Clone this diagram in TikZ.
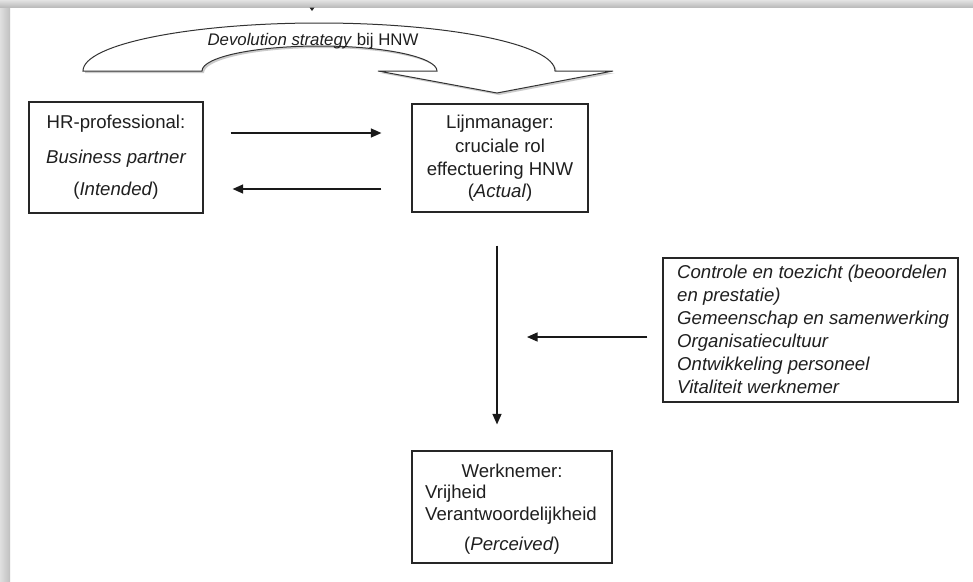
\documentclass[tikz,border=0pt]{standalone}
\usepackage{fontspec}
\setmainfont{Liberation Sans}
\usetikzlibrary{arrows.meta,shadows}
\begin{document}
\begin{tikzpicture}[x=1pt,y=-1pt,
  box/.style={draw=black!85,line width=1.2pt,inner sep=0pt,fill=white},
  txt/.style={inner sep=0pt,anchor=base,font=\fontsize{18.6}{22}\selectfont,text=black!88},
  txtl/.style={txt,anchor=base west},
  arr/.style={line width=1.3pt,draw=black!90,-{Triangle[length=10.5pt,width=9pt]}},
  curvarrow/.style={line width=1pt,draw=black!80,fill=white,
    drop shadow={shadow xshift=2pt,shadow yshift=-2pt,fill=black!45,opacity=0.45}}
]
\useasboundingbox (0,0) rectangle (973,581);
\fill[white] (0,0) rectangle (973,581);
% page shadow bands
\shade[left color=gray!25,right color=gray!50] (0,0) rectangle (10,581);
\shade[top color=gray!22,bottom color=gray!55] (0,0) rectangle (973,7.5);
% small tick at top
\fill[black!85] (309.5,7.5) -- (314.5,7.5) -- (312,11) -- cycle;

% curved block arrow
\draw[curvarrow] (83,71)
  .. controls (83,44.5) and (188.7,23) .. (319,23)
  .. controls (449.3,23) and (555,44.5) .. (555,71)
  -- (613,71) -- (497,93) -- (378,71) -- (437,71)
  .. controls (437,57.2) and (384.4,46) .. (319.5,46)
  .. controls (254.6,46) and (202,57.2) .. (202,71)
  -- cycle;
\node[inner sep=0pt,anchor=base,font=\fontsize{16.8}{20}\selectfont,text=black!88] (dev) at (313,45) {\textit{Devolution strategy} bij HNW};

% HR box
\node[box,minimum width=174pt,minimum height=111pt] (hr) at (116,157.5) {};
\node[txt] (hr1) at (116,128) {HR-professional:};
\node[txt] (hr2) at (116,163) {\itshape Business partner};
\node[txt] (hr3) at (116,195) {(\textit{Intended})};

% Lijnmanager box
\node[box,minimum width=176pt,minimum height=108pt] (lm) at (500,158) {};
\node[txt] (lm1) at (500,128) {Lijnmanager:};
\node[txt] (lm2) at (500,152) {cruciale rol};
\node[txt] (lm3) at (500,175) {effectuering HNW};
\node[txt] (lm4) at (500,197) {(\textit{Actual})};

% Werknemer box
\node[box,minimum width=200pt,minimum height=112pt] (wk) at (512,507) {};
\node[txt] (wk1) at (512,477) {Werknemer:};
\node[txtl] (wk2) at (425,498) {Vrijheid};
\node[txtl] (wk3) at (425,520) {Verantwoordelijkheid};
\node[txt] (wk4) at (512,550) {(\textit{Perceived})};

% right box
\node[box,minimum width=295pt,minimum height=144pt] (rb) at (810.5,330) {};
\node[txtl] (rb1) at (677,278) {\itshape Controle en toezicht (beoordelen};
\node[txtl] (rb2) at (677,301) {\itshape en prestatie)};
\node[txtl] (rb3) at (677,324) {\itshape Gemeenschap en samenwerking};
\node[txtl] (rb4) at (677,347) {\itshape Organisatiecultuur};
\node[txtl] (rb5) at (677,370) {\itshape Ontwikkeling personeel};
\node[txtl] (rb6) at (677,393) {\itshape Vitaliteit werknemer};

% connectors
\draw[arr,shorten <=27pt,shorten >=30pt] ([yshift=24.5pt]hr.east) -- ([yshift=25pt]lm.west);
\draw[arr,shorten <=30pt,shorten >=29pt] ([yshift=-31pt]lm.west) -- ([yshift=-31.5pt]hr.east);
\draw[arr,shorten <=33pt,shorten >=26pt] ([xshift=-3pt]lm.south) -- ([xshift=-15pt]wk.north);
\coordinate (vx) at (497,337);
\draw[arr,shorten <=15pt,shorten >=30pt] ([yshift=-7pt]rb.west) -- (vx);
\end{tikzpicture}
\end{document}
